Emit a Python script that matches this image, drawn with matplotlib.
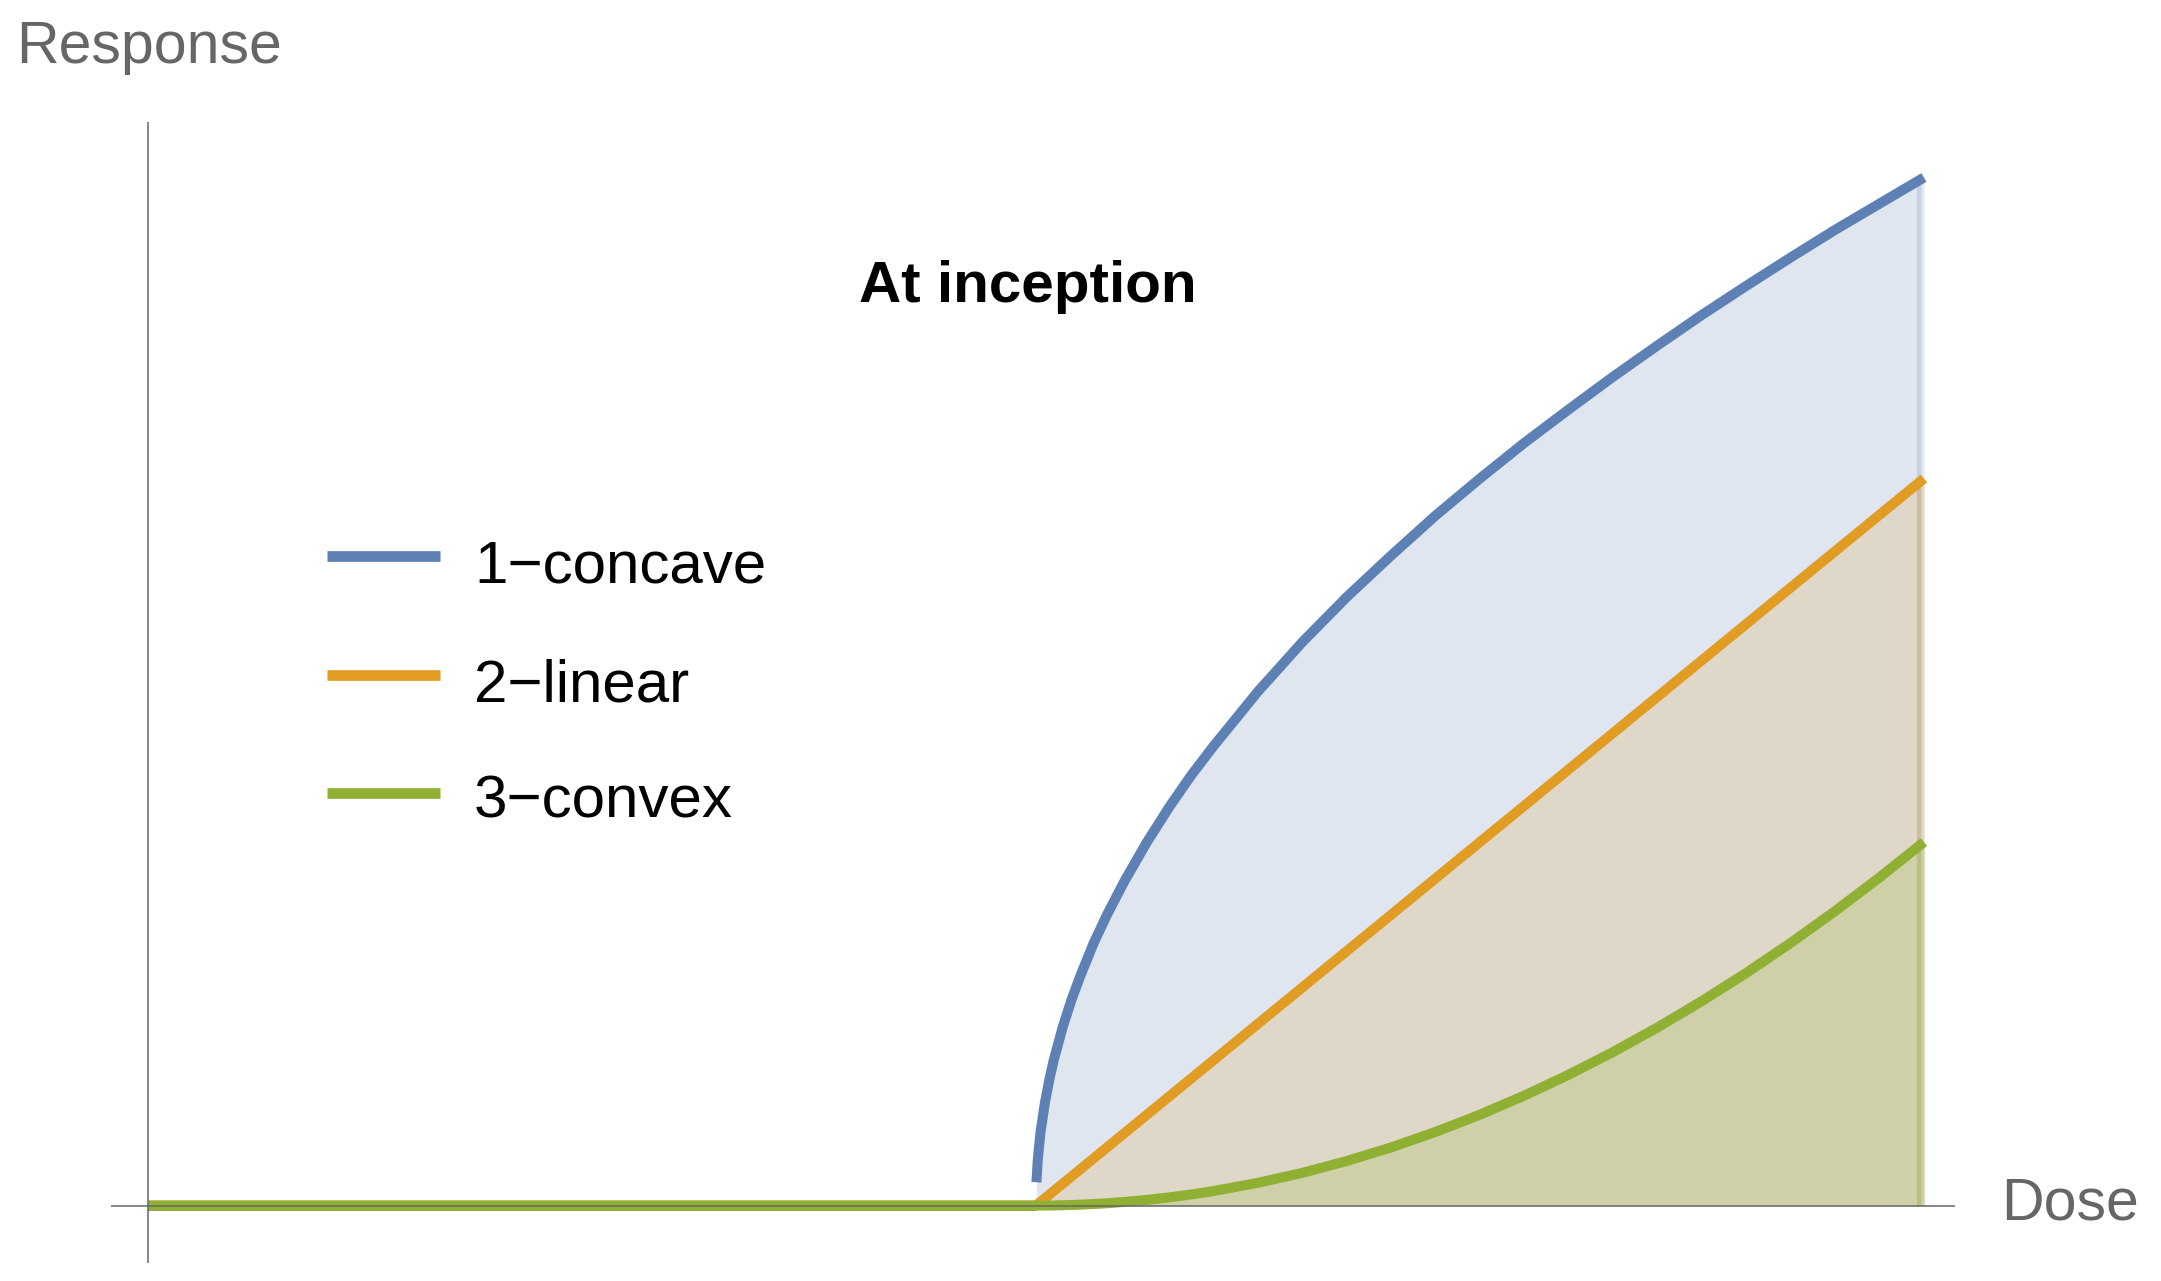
import numpy as np
import matplotlib
matplotlib.use("Agg")
import matplotlib.pyplot as plt
from matplotlib.lines import Line2D
import matplotlib.transforms as mtransforms

plt.rcParams['font.family'] = ['Liberation Sans', 'DejaVu Sans']

# ---- data ----
dose = [0.0, 1.0, 1.0005, 1.002, 1.005, 1.01, 1.015, 1.02, 1.03, 1.04, 1.05, 1.065,
        1.08, 1.1, 1.125, 1.15, 1.175, 1.2, 1.25, 1.3, 1.35, 1.4, 1.45, 1.5, 1.55,
        1.6, 1.65, 1.7, 1.75, 1.8, 1.85, 1.9, 1.95, 2.0]
concave = [0.0, 0.0, 0.032, 0.063, 0.100, 0.141, 0.173, 0.200, 0.245, 0.283, 0.316, 0.361,
           0.400, 0.447, 0.500, 0.548, 0.592, 0.632, 0.707, 0.775, 0.837, 0.894, 0.949, 1.000,
           1.049, 1.095, 1.140, 1.183, 1.225, 1.265, 1.304, 1.342, 1.378, 1.414]
linear = [0.0, 0.0, 0.0005, 0.002, 0.005, 0.01, 0.015, 0.02, 0.03, 0.04, 0.05, 0.065,
          0.08, 0.1, 0.125, 0.15, 0.175, 0.2, 0.25, 0.3, 0.35, 0.4, 0.45, 0.5, 0.55,
          0.6, 0.65, 0.7, 0.75, 0.8, 0.85, 0.9, 0.95, 1.0]
convex = [0.0, 0.0, 0.0, 0.0, 0.0, 0.00005, 0.0001, 0.0002, 0.00045, 0.0008, 0.00125, 0.0021,
          0.0032, 0.005, 0.0078, 0.0113, 0.0153, 0.02, 0.0313, 0.045, 0.0613, 0.08, 0.1013, 0.125,
          0.1513, 0.18, 0.2113, 0.245, 0.2813, 0.32, 0.3613, 0.405, 0.4513, 0.5]
labels = ["1\u2212concave", "2\u2212linear", "3\u2212convex"]
title = "At inception"
xlabel = "Dose"
ylabel = "Response"

line_colors = ["#5e81b5", "#e19c24", "#8fb032"]
fill_colors = ["#dfe6f0", "#dfd8c8", "#cfcfa8"]
edge_colors = ["#c6d1e3", "#cdbd9d", "#b9bf7e"]

W, H = 2161, 1281
fig = plt.figure(figsize=(W / 100, H / 100), dpi=100)

def fx(px):
    return px / W

def fy(py):
    return 1 - py / H

ax = fig.add_axes([fx(111), fy(1263), fx(1955) - fx(111), fy(121.5) - fy(1263)])
ax.set_xlim(-0.0417, 2.035)
ax.set_ylim(-0.079, 1.491)
for s in ax.spines.values():
    s.set_visible(False)
ax.set_xticks([])
ax.set_yticks([])
ax.patch.set_alpha(0)

d = np.array(dose)
series = [np.array(concave), np.array(linear), np.array(convex)]

# fills
for y, fc in zip(series, fill_colors):
    ax.fill_between(d, 0, y, color=fc, lw=0, zorder=1)

# fill edges at right end
off = mtransforms.offset_copy(ax.transData, fig=fig, x=-5, y=0, units='dots')
lows = [series[1][-1], series[2][-1], 0.0]
for y, lo, ec in zip(series, lows, edge_colors):
    ax.plot([d[-1], d[-1]], [lo, y[-1]], color=ec, lw=3, transform=off, zorder=2,
            solid_capstyle='butt')

lw = 7.2
kw = dict(lw=lw, solid_capstyle='butt', solid_joinstyle='round')
mflat = d <= 1.0
ax.plot(d[mflat], series[0][mflat], color=line_colors[0], zorder=3, **kw)
mc = d > 1.0
ax.plot(d[mc], series[0][mc], color=line_colors[0], zorder=3, **kw)
ax.plot(d, series[1], color=line_colors[1], zorder=4, **kw)
ax.plot(d, series[2], color=line_colors[2], zorder=5, **kw)

# axes lines
ax.axhline(0, color="#666666", lw=1.1, zorder=10)
ax.axvline(0, color="#666666", lw=1.1, zorder=10)

# texts
fig.text(fx(1028), fy(301.7), title, ha='center', va='baseline', fontsize=42,
         fontweight='bold', color='black')
fig.text(fx(16), fy(62.7), ylabel, ha='left', va='baseline', fontsize=42.5, color='#666666')
fig.text(fx(2001), fy(1220), xlabel, ha='left', va='baseline', fontsize=42.5, color='#666666')

# legend
leg_y = [556, 675, 793]
leg_base = [582.7, 701.7, 818]
for lab, c, yl, yb in zip(labels, line_colors, leg_y, leg_base):
    fig.add_artist(Line2D([fx(327), fx(440)], [fy(yl), fy(yl)], color=c, lw=7.7,
                          transform=fig.transFigure, solid_capstyle='butt'))
    fig.text(fx(474), fy(yb), lab, ha='left', va='baseline', fontsize=43.3, color='black')

fig.savefig("out.png", dpi=100)
